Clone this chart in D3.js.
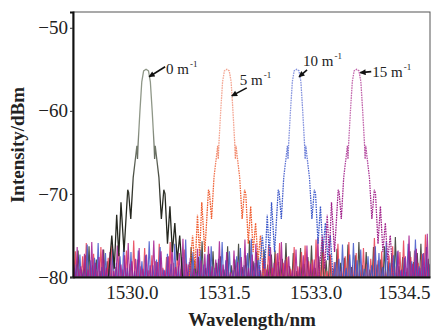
<!DOCTYPE html>
<html>
<head>
<meta charset="utf-8">
<script src="https://cdn.jsdelivr.net/npm/d3@7/dist/d3.min.js"></script>
<style>
  html, body { margin: 0; padding: 0; background: #fff; }
  svg { display: block; }
  text { font-family: "Liberation Serif", "Times New Roman", serif; }
</style>
</head>
<body>
<svg id="chart" width="431" height="331"></svg>
<script>
// ---------------- data ----------------
const categories = ["0", "5", "10", "15"];            // curvature, m^-1
const peakCenters = [1530.23, 1531.55, 1532.69, 1533.67]; // nm
const xTicks = [1530.0, 1531.5, 1533.0, 1534.5];
const yTicks = [-50, -60, -70, -80];

// shared reflection-spectrum shape: offset from center (nm), intensity (dBm)
const profileOffsets = [-0.62,-0.56,-0.52,-0.48,-0.445,-0.41,-0.36,-0.30,-0.285,-0.25,-0.21,-0.17,-0.15,-0.14,-0.13,-0.10,-0.07,-0.04,0,0.04,0.07,0.10,0.13,0.14,0.15,0.17,0.21,0.25,0.29,0.31,0.35,0.39,0.43,0.47,0.51,0.55,0.60];
const profileValues  = [-80.5,-75,-79,-72.5,-77.5,-71,-77,-69.5,-69.8,-73,-68,-65.5,-64.2,-65.8,-64,-60,-56.5,-55.2,-55,-55.2,-56.5,-60,-64,-65.8,-64.2,-65.5,-68,-73,-69.5,-70,-76,-71.5,-77,-73.5,-78,-75,-80.5];

// noise floor samples (dBm), evenly spread over 1529.0 – 1534.9 nm
const noiseStart = 1529.0, noiseEnd = 1534.9;
const noise0 = [-77.6,-78.9,-76.8,-79.1,-77.4,-76.3,-78.6,-77.9,-79.3,-76.7,-78.1,-77.2,-75.8,-78.8,-77.5,-78.3,-76.5,-79.2,-77.7,-76.1,-78.5,-77.3,-75.9,-78.2,-77.0,-79.0,-76.6,-78.4,-77.8,-76.2,-78.7,-77.1,-79.4,-76.4,-78.0,-77.6,-75.7,-78.9,-77.2,-76.9,-78.3,-77.5,-79.1,-76.3,-78.6,-77.9,-76.0,-78.8,-77.4,-75.6,-78.1,-77.0,-79.2,-76.7,-78.5,-77.3,-76.8,-78.2,-77.8,-75.9,-78.7,-77.1,-79.3,-76.5,-78.4,-77.6,-76.2,-78.9,-77.5,-75.5,-78.0,-77.2,-79.0,-76.6,-78.3,-77.7,-76.1,-78.8,-77.4,-75.8,-78.6,-77.0,-79.1,-76.4,-78.5,-77.9,-76.3,-78.1,-77.3,-75.2,-78.7,-77.6,-79.4,-76.9,-78.2,-77.1,-76.0,-78.8,-77.8,-75.4];
const noise1 = [-78.2,-76.9,-79.0,-77.5,-75.9,-78.6,-77.2,-79.3,-76.4,-78.0,-77.7,-76.2,-78.8,-77.1,-79.1,-76.8,-78.4,-75.6,-77.9,-78.7,-76.5,-79.2,-77.4,-78.1,-76.0,-78.9,-77.6,-75.8,-78.3,-77.0,-79.0,-76.7,-78.5,-77.3,-74.6,-78.2,-76.9,-79.4,-77.8,-76.3,-78.6,-77.1,-75.7,-78.8,-77.5,-79.1,-76.6,-78.0,-77.4,-75.4,-78.4,-76.8,-79.2,-77.7,-76.1,-78.9,-77.2,-75.9,-78.3,-77.6,-79.0,-76.4,-78.7,-77.0,-76.2,-78.1,-77.9,-75.5,-78.5,-76.7,-79.3,-77.3,-78.2,-76.0,-78.8,-77.5,-75.8,-78.6,-77.1,-79.1,-76.5,-78.4,-77.8,-75.3,-78.0,-76.9,-79.2,-77.4,-76.3,-78.7,-77.0,-75.6,-78.9,-77.6,-76.8,-78.3,-77.2,-74.9,-78.5,-77.7];
const noise2 = [-76.9,-78.5,-77.3,-79.2,-76.1,-78.0,-77.7,-75.9,-78.8,-77.1,-79.0,-76.6,-78.3,-77.5,-76.2,-78.9,-77.0,-79.3,-76.8,-78.1,-77.4,-75.7,-78.6,-77.9,-76.4,-79.1,-77.2,-78.4,-76.0,-78.7,-77.6,-75.5,-78.2,-77.0,-79.4,-76.7,-78.5,-77.3,-76.3,-78.9,-77.8,-75.8,-78.0,-76.9,-79.2,-77.5,-76.5,-78.6,-77.1,-75.4,-78.3,-77.7,-79.0,-76.2,-78.8,-77.4,-76.0,-78.1,-77.9,-75.6,-78.7,-76.8,-79.1,-77.2,-76.4,-78.4,-77.6,-75.2,-78.5,-77.0,-79.3,-76.6,-78.2,-77.8,-76.1,-78.9,-77.3,-75.9,-78.0,-76.7,-79.0,-77.5,-78.6,-76.3,-77.1,-78.8,-75.7,-78.3,-77.4,-76.9,-79.2,-77.7,-76.0,-78.1,-75.5,-78.7,-77.2,-76.4,-78.4,-75.1];
const noise3 = [-77.9,-76.4,-78.7,-77.2,-79.1,-75.8,-78.3,-77.6,-76.7,-78.9,-77.0,-79.3,-76.2,-78.5,-77.4,-75.9,-78.1,-77.8,-76.5,-79.0,-77.3,-78.6,-75.6,-78.2,-76.9,-79.2,-77.5,-76.1,-78.8,-77.1,-75.4,-78.4,-77.7,-79.0,-76.6,-78.0,-77.2,-76.3,-78.7,-77.9,-75.7,-78.5,-77.0,-79.4,-76.8,-78.2,-77.6,-75.5,-78.9,-77.3,-76.0,-78.6,-77.8,-79.1,-76.4,-78.3,-77.1,-75.8,-78.0,-77.5,-79.2,-76.7,-78.8,-77.4,-76.2,-78.4,-77.9,-75.3,-78.1,-76.9,-79.0,-77.2,-78.6,-76.5,-77.7,-78.9,-75.9,-78.2,-77.0,-76.3,-79.3,-77.6,-78.5,-76.1,-77.8,-78.7,-75.6,-78.0,-77.3,-76.8,-79.1,-77.5,-75.0,-78.4,-76.6,-78.9,-77.1,-74.8,-78.3,-76.4];
const noiseSets = [noise0, noise1, noise2, noise3];

// ---------------- styles ----------------
const peakTopColors = ["#8f9788", "#f3a592", "#8593de", "#c265ab"];
const peakLowColors = ["#25271f", "#ef5a2c", "#3a56c8", "#a0218a"];
const noiseColors   = ["#2e3128", "#e63a50", "#3f55c8", "#a41a8e"];
const peakDash      = [null, "1.6,0.9", "1.6,0.9", "1.6,0.9"];

// ---------------- layout ----------------
const svg = d3.select("#chart");
const M = { left: 73, right: 430, top: 12, bottom: 277 };
const x = d3.scaleLinear().domain([1529.036, 1534.87]).range([M.left, M.right]);
const y = d3.scaleLinear().domain([-80, -48.1]).range([M.bottom, M.top]);

const defs = svg.append("defs");
defs.append("clipPath").attr("id", "clip")
  .append("rect").attr("x", M.left).attr("y", M.top)
  .attr("width", M.right - M.left).attr("height", M.bottom - M.top);

defs.append("marker")
  .attr("id", "arrow").attr("viewBox", "0 0 10 10")
  .attr("refX", 9).attr("refY", 5)
  .attr("markerWidth", 7).attr("markerHeight", 6)
  .attr("markerUnits", "userSpaceOnUse")
  .attr("orient", "auto")
  .append("path").attr("d", "M0,0 L10,5 L0,10 Z").attr("fill", "#111");

peakCenters.forEach((c, k) => {
  const g = defs.append("linearGradient").attr("id", "grad" + k)
    .attr("gradientUnits", "userSpaceOnUse")
    .attr("x1", 0).attr("x2", 0).attr("y1", y(-62)).attr("y2", y(-71));
  g.append("stop").attr("offset", 0).attr("stop-color", peakTopColors[k]);
  g.append("stop").attr("offset", 1).attr("stop-color", peakLowColors[k]);
});

const plot = svg.append("g").attr("clip-path", "url(#clip)");
const line = d3.line().x(d => x(d[0])).y(d => y(d[1]));

// noise floors
noiseSets.forEach((arr, k) => {
  const step = (noiseEnd - noiseStart) / (arr.length - 1);
  const pts = [];
  arr.forEach((v, i) => {
    const w = noiseStart + (i + k * 0.25) * step;
    const c = peakCenters[k];
    if (Math.abs(w - c) < 0.62) return;
    pts.push([w - step * 0.4, -80.6]);
    pts.push([w, v]);
    pts.push([w + step * 0.4, -80.6]);
  });
  plot.append("path").datum(pts)
    .attr("d", line)
    .attr("fill", "none")
    .attr("stroke", noiseColors[k])
    .attr("stroke-width", 1.15)
    .attr("stroke-opacity", 0.85);
});

// peaks
peakCenters.forEach((c, k) => {
  const pts = profileOffsets.map((o, i) => [c + o, profileValues[i]]);
  plot.append("path").datum(pts)
    .attr("d", line)
    .attr("fill", "none")
    .attr("stroke", `url(#grad${k})`)
    .attr("stroke-width", 1.3)
    .attr("stroke-dasharray", peakDash[k]);
});

// frame
svg.append("rect")
  .attr("x", M.left).attr("y", M.top)
  .attr("width", M.right - M.left).attr("height", M.bottom - M.top)
  .attr("fill", "none").attr("stroke", "#555").attr("stroke-width", 1);

// axes
const xAxis = svg.append("g").attr("transform", `translate(0,${M.bottom})`)
  .call(d3.axisBottom(x).tickValues(xTicks).tickFormat(d3.format(".1f")).tickSize(0).tickPadding(9));
xAxis.select(".domain").attr("stroke", "#111").attr("stroke-width", 2);
xAxis.selectAll("text").attr("font-size", 19).attr("fill", "#222")
  .attr("font-family", '"Liberation Serif", serif');
// last label sits flush with the right edge, as in the reference
xAxis.selectAll(".tick").filter(d => d === xTicks[xTicks.length - 1])
  .select("text").attr("text-anchor", "end").attr("x", M.right - x(xTicks[xTicks.length - 1]));

const yAxis = svg.append("g").attr("transform", `translate(${M.left},0)`)
  .call(d3.axisLeft(y).tickValues(yTicks).tickSize(3).tickPadding(2));
yAxis.select(".domain").attr("stroke", "#111").attr("stroke-width", 2);
yAxis.selectAll("line").attr("stroke", "#333");
yAxis.selectAll("text").attr("font-size", 19).attr("fill", "#222")
  .attr("font-family", '"Liberation Serif", serif');

// axis titles
svg.append("text").attr("x", 252).attr("y", 326).attr("text-anchor", "middle")
  .attr("font-size", 19).attr("font-weight", "bold").attr("fill", "#222")
  .text("Wavelength/nm");
svg.append("text").attr("transform", "translate(24,145) rotate(-90)")
  .attr("text-anchor", "middle")
  .attr("font-size", 19).attr("font-weight", "bold").attr("fill", "#222")
  .text("Intensity/dBm");

// annotations: tip in data coords (offset from peak center, dBm), tail and text in px offsets from the tip
const annTipOffset = [0.05, 0.08, 0.04, 0.06];
const annTipValue  = [-55.9, -58.2, -55.9, -55.4];
const annTail = [[16, -10], [15, -8], [8, -7], [11, -1]];
const annText = [[17, -3], [8, -11], [4, -11], [12, 4]];

peakCenters.forEach((c, k) => {
  const tx = x(c + annTipOffset[k]), ty = y(annTipValue[k]);
  svg.append("line")
    .attr("x1", tx + annTail[k][0]).attr("y1", ty + annTail[k][1])
    .attr("x2", tx).attr("y2", ty)
    .attr("stroke", "#111").attr("stroke-width", 1.6)
    .attr("marker-end", "url(#arrow)");
  const t = svg.append("text")
    .attr("x", tx + annText[k][0]).attr("y", ty + annText[k][1])
    .attr("font-size", 15).attr("fill", "#222");
  t.append("tspan").text(categories[k] + " m");
  t.append("tspan").attr("font-size", 9).attr("dy", -7).attr("dx", 1).text("-1");
});
</script>
</body>
</html>
